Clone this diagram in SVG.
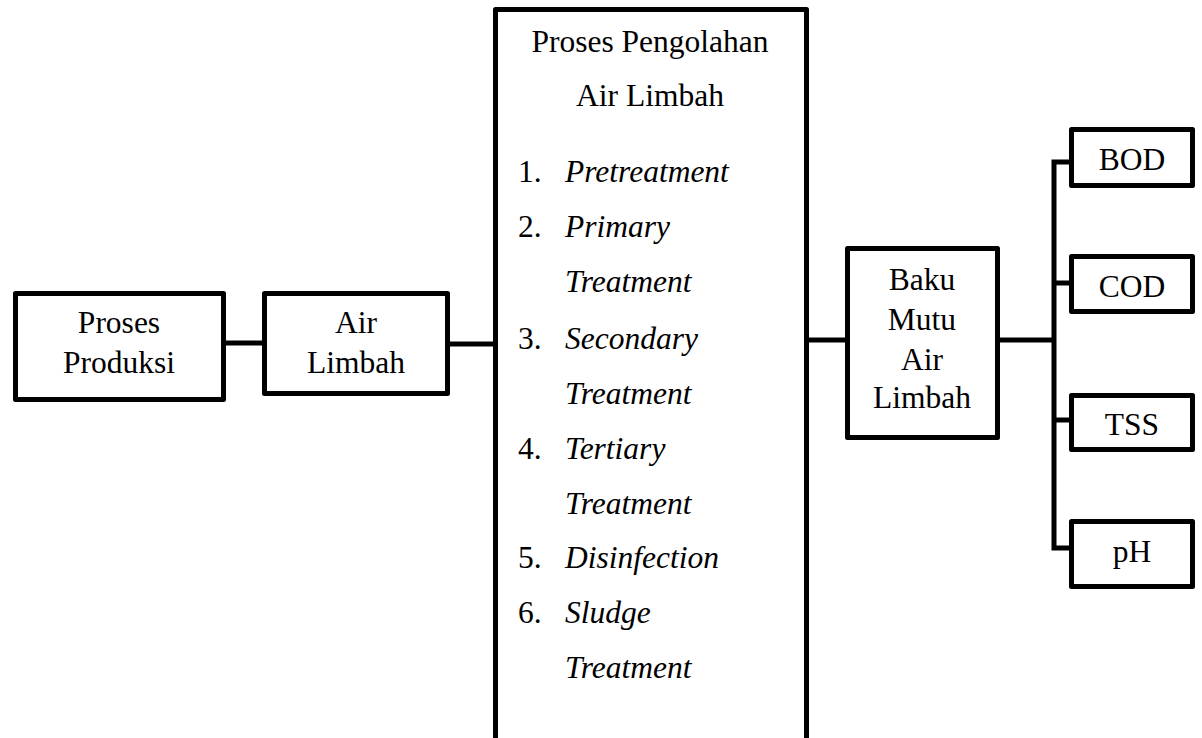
<svg xmlns="http://www.w3.org/2000/svg" width="1202" height="738" viewBox="0 0 1202 738">
<style>
.box{fill:#fff;stroke:#000;stroke-width:5;stroke-linejoin:round}
.c{fill:none;stroke:#000;stroke-width:5}
</style>
<rect width="1202" height="738" fill="#fff"/>
<g id="connectors">
<line class="c" x1="224" y1="343" x2="265" y2="343"/>
<line class="c" x1="448" y1="344" x2="496" y2="344"/>
<line class="c" x1="803" y1="340" x2="848" y2="340"/>
<line class="c" x1="998" y1="340" x2="1054" y2="340"/>
<polyline class="c" points="1071,162 1054,162 1054,548 1071,548"/>
<line class="c" x1="1054" y1="283" x2="1071" y2="283"/>
<line class="c" x1="1054" y1="420" x2="1071" y2="420"/>
</g>
<g font-family="Liberation Serif" font-size="31.5" fill="#000">
<g id="proses-produksi" text-anchor="middle">
<rect class="box" x="15.5" y="293.5" width="208" height="106"/>
<text x="119" y="333">Proses</text>
<text x="119" y="373">Produksi</text>
</g>
<g id="air-limbah" text-anchor="middle">
<rect class="box" x="264.5" y="293.5" width="183" height="100"/>
<text x="356" y="333">Air</text>
<text x="356" y="373">Limbah</text>
</g>
<g id="proses-pengolahan">
<rect class="box" x="495.5" y="9.5" width="311" height="740"/>
<text text-anchor="middle" x="650" y="52">Proses Pengolahan</text>
<text text-anchor="middle" x="650" y="106">Air Limbah</text>
<text x="518" y="182">1.</text><text font-style="italic" x="565" y="182">Pretreatment</text>
<text x="518" y="237">2.</text><text font-style="italic" x="565" y="237">Primary</text>
<text font-style="italic" x="565" y="292">Treatment</text>
<text x="518" y="349">3.</text><text font-style="italic" x="565" y="349">Secondary</text>
<text font-style="italic" x="565" y="404">Treatment</text>
<text x="518" y="459">4.</text><text font-style="italic" x="565" y="459">Tertiary</text>
<text font-style="italic" x="565" y="514">Treatment</text>
<text x="518" y="568">5.</text><text font-style="italic" x="565" y="568">Disinfection</text>
<text x="518" y="623">6.</text><text font-style="italic" x="565" y="623">Sludge</text>
<text font-style="italic" x="565" y="678">Treatment</text>
</g>
<g id="baku-mutu" text-anchor="middle">
<rect class="box" x="847.5" y="248.5" width="150" height="189"/>
<text x="922" y="290">Baku</text>
<text x="922" y="330">Mutu</text>
<text x="922" y="370">Air</text>
<text x="922" y="408">Limbah</text>
</g>
<g id="bod" text-anchor="middle">
<rect class="box" x="1071.5" y="129.5" width="121" height="56"/>
<text x="1132" y="170">BOD</text>
</g>
<g id="cod" text-anchor="middle">
<rect class="box" x="1071.5" y="256.5" width="121" height="55"/>
<text x="1132" y="297">COD</text>
</g>
<g id="tss" text-anchor="middle">
<rect class="box" x="1071.5" y="395.5" width="121" height="54"/>
<text x="1132" y="435">TSS</text>
</g>
<g id="ph" text-anchor="middle">
<rect class="box" x="1071.5" y="521.5" width="121" height="65"/>
<text x="1132" y="562">pH</text>
</g>
</g>
</svg>
